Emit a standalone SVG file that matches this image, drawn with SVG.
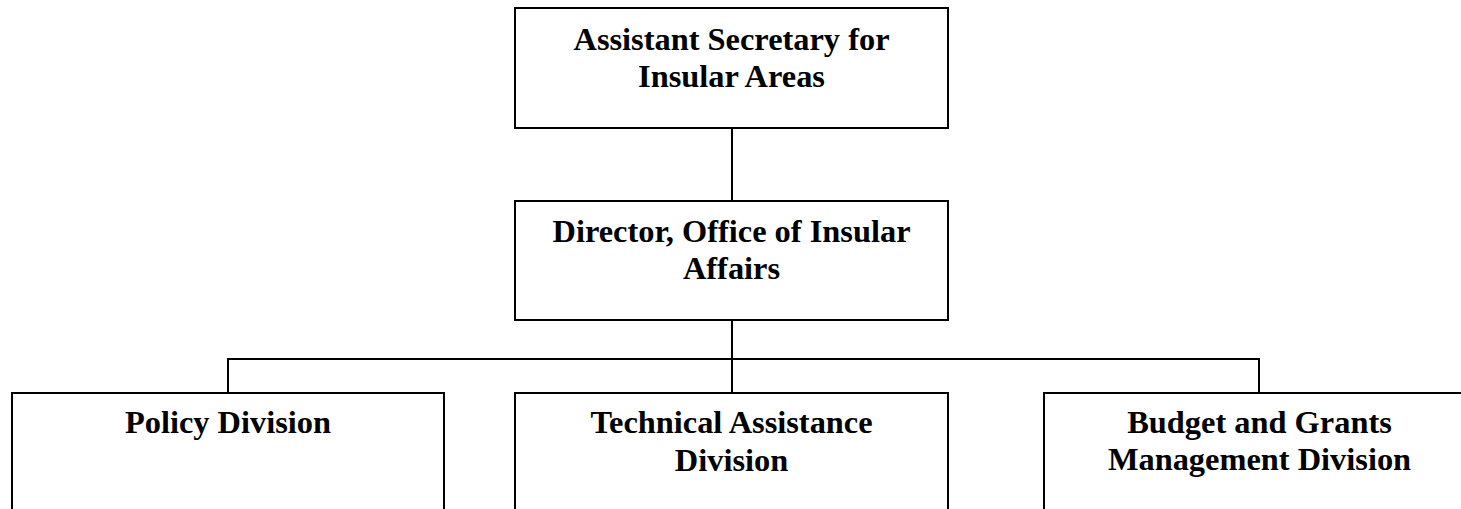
<svg xmlns="http://www.w3.org/2000/svg" width="1461" height="509" viewBox="0 0 1461 509">
<style>
.box{fill:#fff;stroke:#000;stroke-width:2}
.ln{fill:none;stroke:#000;stroke-width:2}
text{font-family:"Liberation Serif","Times New Roman",serif;font-weight:bold;font-size:32.4px;text-anchor:middle;fill:#000}
</style>
<rect width="1461" height="509" fill="#fff"/>
<g id="connectors">
<line class="ln" x1="732" y1="128" x2="732" y2="201"/>
<line class="ln" x1="732" y1="320" x2="732" y2="393"/>
<polyline class="ln" points="228,393 228,359 1259,359 1259,393"/>
</g>
<g id="n1">
<rect class="box" x="515" y="8" width="433" height="120"/>
<text x="731.5" y="50">Assistant Secretary for</text>
<text x="731.5" y="87">Insular Areas</text>
</g>
<g id="n2">
<rect class="box" x="515" y="201" width="433" height="119"/>
<text x="731.5" y="242">Director, Office of Insular</text>
<text x="731.5" y="279">Affairs</text>
</g>
<g id="n3">
<rect class="box" x="12" y="393" width="432" height="130"/>
<text x="228" y="433">Policy Division</text>
</g>
<g id="n4">
<rect class="box" x="515" y="393" width="433" height="130"/>
<text x="731.5" y="433">Technical Assistance</text>
<text x="731.5" y="471">Division</text>
</g>
<g id="n5">
<rect class="box" x="1044" y="393" width="432" height="130"/>
<text x="1259.5" y="433">Budget and Grants</text>
<text x="1259.5" y="470">Management Division</text>
</g>
</svg>
